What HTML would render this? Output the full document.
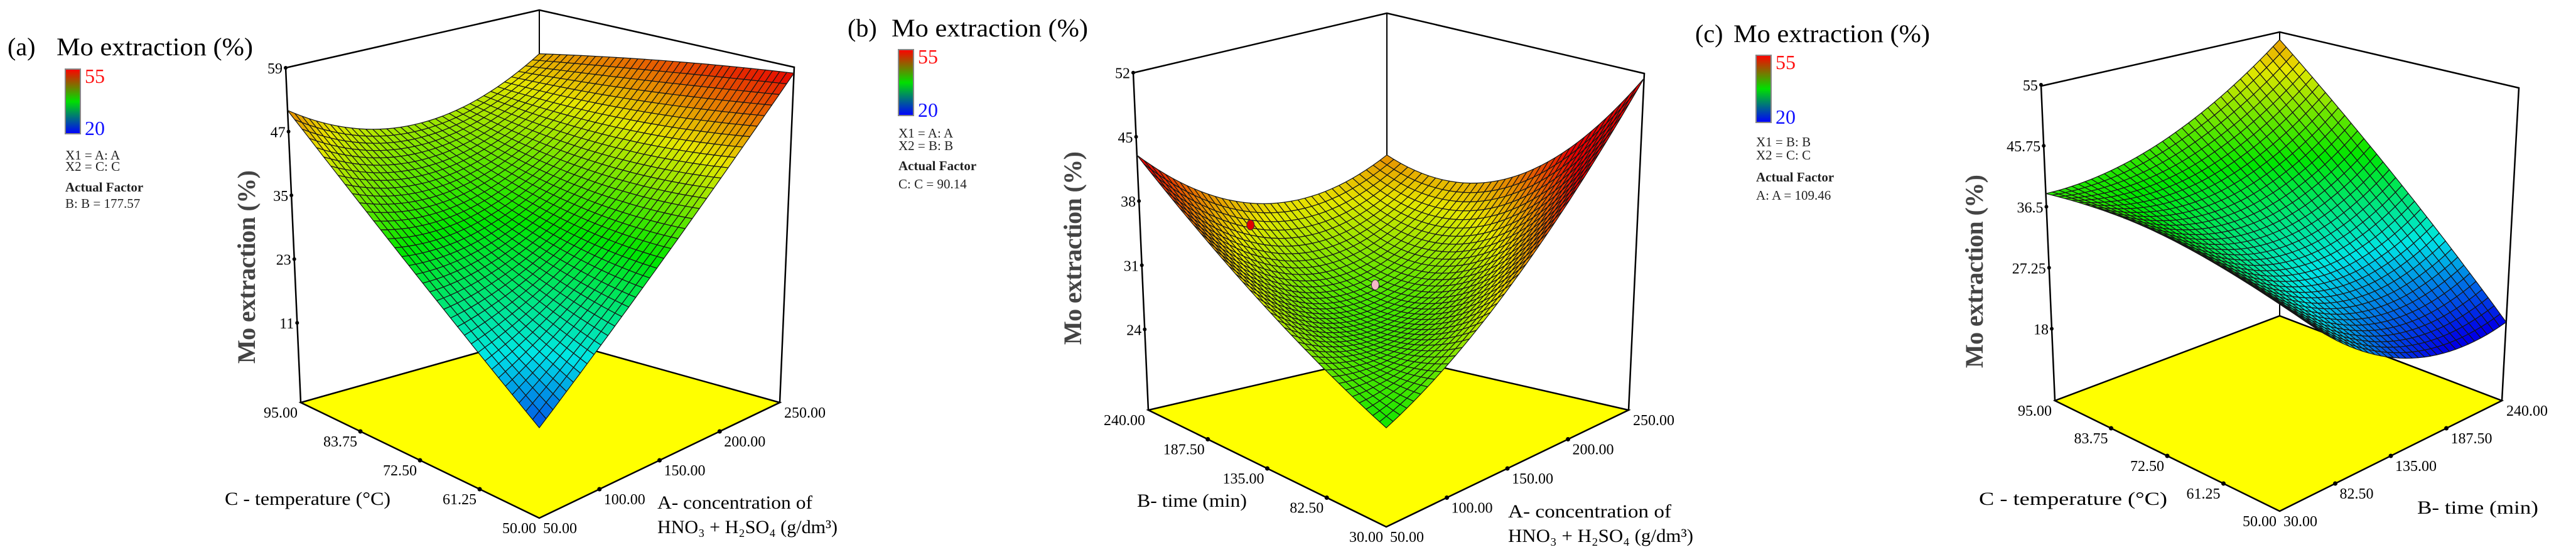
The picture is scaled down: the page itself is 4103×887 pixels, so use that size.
<!DOCTYPE html>
<html><head><meta charset="utf-8">
<style>
html,body{margin:0;padding:0;background:#fff;}
svg{display:block;font-family:"Liberation Serif",serif;}
</style></head>
<body>
<svg id="chart" width="4103" height="887" viewBox="0 0 4103 887" xmlns="http://www.w3.org/2000/svg">
<defs>
<linearGradient id="cbar" x1="0" y1="0" x2="0" y2="1">
<stop offset="0" stop-color="#ff0000"/><stop offset="0.5" stop-color="#00e000"/><stop offset="1" stop-color="#0000ff"/>
</linearGradient>
</defs>
<rect width="4103" height="887" fill="#fff"/>
</svg>
<script>
// ---- data: 3x3 response grids (rows: second factor low/mid/high, cols: first factor low/mid/high)
const gridA = [[13, 34, 58], [31, 35, 54], [51, 42, 49]];
const gridB = [[26, 35.3, 51.4], [33, 28, 37.6], [43, 34.7, 37]];
const gridC = [[39, 22, 19], [40.7, 30, 34.5], [38.5, 40, 49]];
// tick labels
const zTicksA = [11, 23, 35, 47, 59];
const zTicksB = [24, 31, 38, 45, 52];
const zTicksC = [18, 27.25, 36.5, 45.75, 55];
const zLabelsC = ["18", "27.25", "36.5", "45.75", "55"];
const uTicksA = ["50.00", "100.00", "150.00", "200.00", "250.00"];
const vTicksA = ["50.00", "61.25", "72.50", "83.75", "95.00"];
const uTicksB = ["50.00", "100.00", "150.00", "200.00", "250.00"];
const vTicksB = ["30.00", "82.50", "135.00", "187.50", "240.00"];
const uTicksC = ["30.00", "82.50", "135.00", "187.50", "240.00"];
const vTicksC = ["50.00", "61.25", "72.50", "83.75", "95.00"];
// design points in panel b: [A, B, value]
const ptsBA = [80, 140];
const ptsBB = [177, 135];
const ptsBV = [38, 31];
const ptsBColor = ["#e00000", "#f4b8c8"];

const NS = "http://www.w3.org/2000/svg";
const svg = document.getElementById("chart");
function mk(tag, attrs, parent) {
  const e = document.createElementNS(NS, tag);
  for (const k in attrs) e.setAttribute(k, attrs[k]);
  (parent || svg).appendChild(e);
  return e;
}
function txt(s, attrs, parent) { const e = mk("text", attrs, parent); e.textContent = s; return e; }

const stops = [[0,[0,0,255]],[0.25,[0,255,255]],[0.5,[0,255,0]],[0.75,[255,255,0]],[1,[255,0,0]]];
function cmap(t) {
  t = Math.max(0, Math.min(1, t));
  for (let i = 1; i < stops.length; i++) {
    if (t <= stops[i][0]) {
      const a = stops[i-1], b = stops[i], f = (t - a[0]) / (b[0] - a[0]);
      const c = a[1].map((x, j) => Math.round((x + (b[1][j] - x) * f) * 0.9));
      return "rgb(" + c.join(",") + ")";
    }
  }
  return "rgb(230,0,0)";
}
function lag(t) { return [2*(t-0.5)*(t-1), -4*t*(t-1), 2*t*(t-0.5)]; }
function evalGrid(g, u, v) {
  const lu = lag(u), lv = lag(v); let s = 0;
  for (let i = 0; i < 3; i++) for (let j = 0; j < 3; j++) s += lv[i] * lu[j] * g[i][j];
  return s;
}

function panel(cfg) {
  const G = mk("g", {}, svg);
  
  
  const F = cfg.F, L = cfg.L, R = cfg.R, B = cfg.B;
  const slL = (cfg.Ltop[0] - L[0]) / (L[1] - cfg.Ltop[1]);
  const slR = (cfg.Rtop[0] - R[0]) / (R[1] - cfg.Rtop[1]);
  function floorPt(u, v) {
    const wF = (1-u)*(1-v), wR = u*(1-v), wL = (1-u)*v, wB = u*v;
    return [F[0]*wF + R[0]*wR + L[0]*wL + B[0]*wB, F[1]*wF + R[1]*wR + L[1]*wL + B[1]*wB, wL*slL + wR*slR];
  }
  function P(u, v, z) {
    const f = floorPt(u, v); const h = (z - cfg.zFloor) * cfg.ppu;
    return [f[0] + f[2]*h, f[1] - h];
  }
  const fl = mk("polygon", {points: [F,R,B,L].map(p => p.join(",")).join(" "), fill: "#ffff00", stroke: "#000", "stroke-width": 2.5}, G);
  
  
  const frame = mk("polyline", {points: [L, cfg.Ltop, cfg.Top, cfg.Rtop, R].map(p => p.join(",")).join(" "), fill: "none", stroke: "#000", "stroke-width": 2.5}, G);
  
  
  const bv = mk("line", {x1: B[0], y1: B[1], x2: cfg.Top[0], y2: cfg.Top[1], stroke: "#000", "stroke-width": 2}, G);
  
  
  const N = 36, quads = [];
  for (let i = 0; i < N; i++) for (let j = 0; j < N; j++) {
    const u0 = j/N, u1 = (j+1)/N, v0 = i/N, v1 = (i+1)/N;
    const zc = evalGrid(cfg.grid, (u0+u1)/2, (v0+v1)/2);
    const pts = [[u0,v0],[u1,v0],[u1,v1],[u0,v1]].map(q => P(q[0], q[1], evalGrid(cfg.grid, q[0], q[1])));
    quads.push({d: (u0+u1) + (v0+v1), pts, zc});
  }
  quads.sort((a, b) => b.d - a.d);
  const sg = mk("g", {stroke: "#151515", "stroke-width": 1.2, "stroke-linejoin": "round"}, G);
  
  
  for (const q of quads) {
    const t = (q.zc - cfg.cmin) / (cfg.cmax - cfg.cmin);
    const p = mk("polygon", {points: q.pts.map(p => p[0].toFixed(1) + "," + p[1].toFixed(1)).join(" "), fill: cmap(t)}, sg);
    
    
  }
  cfg.zTicks.forEach((zv, k) => {
    const p = P(0, 1, zv);
    const d = mk("circle", {cx: p[0], cy: p[1], r: 3, fill: "#000"}, G);
    
    
    const t = txt(cfg.zLabels ? cfg.zLabels[k] : String(zv), {x: p[0] - 5, y: p[1] + 9, "text-anchor": "end", "font-size": 24}, G);
    
    
  });
  cfg.uTicks.forEach((s, k) => {
    const p = floorPt(k / 4, 0);
    if (k > 0 && k < 4) {
      const d = mk("circle", {cx: p[0], cy: p[1], r: 3.5, fill: "#000"}, G);
      
      
    }
    const t = txt(s, {x: p[0] + (k === 0 ? 6 : 7), y: p[1] + 24, "text-anchor": "start", "font-size": 24}, G);
    
    
  });
  cfg.vTicks.forEach((s, k) => {
    const p = floorPt(0, k / 4);
    if (k > 0 && k < 4) {
      const d = mk("circle", {cx: p[0], cy: p[1], r: 3.5, fill: "#000"}, G);
      
      
    }
    const t = txt(s, {x: p[0] - 5, y: p[1] + 24, "text-anchor": "end", "font-size": 24}, G);
    
    
  });
  const zt = txt("Mo extraction (%)", {x: 0, y: 0, transform: "translate(" + cfg.zTitle[0] + "," + cfg.zTitle[1] + ") rotate(-90)", "text-anchor": "middle", "font-size": 40, "font-weight": "bold", fill: "#444", textLength: 308, lengthAdjust: "spacing"}, G);
  
  
  cfg.axTitles.forEach(a => {
    const t = txt(a[0], {x: a[1], y: a[2], "font-size": 30, textLength: a[3], lengthAdjust: "spacingAndGlyphs"}, G);
    
    
  });
  const lg = cfg.leg;
  const pl = txt(cfg.letter, {x: lg.px, y: lg.ty, "font-size": 40}, G);
  
  
  const tt = txt("Mo extraction (%)", {x: lg.tx, y: lg.ty, "font-size": 40, textLength: 313, lengthAdjust: "spacingAndGlyphs"}, G);
  
  
  const cb = mk("rect", {x: lg.cx, y: lg.cy, width: 24, height: lg.ch, fill: "url(#cbar)", stroke: "#888", "stroke-width": 2}, G);
  
  
  const c1 = txt("55", {x: lg.cx + 31, y: lg.cy + 22, "font-size": 32, fill: "#ff1010"}, G);
  
  
  const c2 = txt("20", {x: lg.cx + 31, y: lg.cy + lg.ch + 2, "font-size": 32, fill: "#1010ff"}, G);
  
  
  lg.lines.forEach((l, k) => {
    const t = txt(l, {x: lg.cx, y: lg.ly[k], "font-size": 21, "font-weight": k === 2 ? "bold" : "normal", fill: "#222"}, G);
    
    
  });
  return {P, G};
}

panel({name: "panel-a", letter: "(a)", F: [859, 825], L: [479, 641], R: [1242, 641], B: [859, 534],
  Ltop: [455, 108], Rtop: [1265, 107], Top: [859, 16], zFloor: -4, ppu: 8.46,
  grid: gridA, cmin: 9, cmax: 58, zTicks: zTicksA, uTicks: uTicksA, vTicks: vTicksA,
  zTitle: [406, 425],
  axTitles: [["C - temperature (°C)", 358, 804, 264, "c-axis-title"], ["A- concentration of", 1047, 810, 247, "a-axis-title"], ["HNO₃ + H₂SO₄ (g/dm³)", 1047, 849, 287, "a-axis-title-line2"]],
  leg: {px: 12, tx: 90, ty: 88, cx: 104, cy: 110, ch: 103, lines: ["X1 = A: A", "X2 = C: C", "Actual Factor", "B: B = 177.57"], ly: [254, 272, 305, 331]}});

const pb = panel({name: "panel-b", letter: "(b)", F: [2208, 839], L: [1829, 653], R: [2594, 653], B: [2209, 565],
  Ltop: [1805, 116], Rtop: [2619, 117], Top: [2209, 21], zFloor: 15.2, ppu: 14.6,
  grid: gridB, cmin: 9, cmax: 42, zTicks: zTicksB, uTicks: uTicksB, vTicks: vTicksB,
  zTitle: [1722, 395],
  axTitles: [["B- time (min)", 1811, 807, 175, "b-axis-title"], ["A- concentration of", 2402, 824, 260, "a-axis-title"], ["HNO₃ + H₂SO₄ (g/dm³)", 2402, 863, 295, "a-axis-title-line2"]],
  leg: {px: 1350, tx: 1420, ty: 58, cx: 1431, cy: 79, ch: 105, lines: ["X1 = A: A", "X2 = B: B", "Actual Factor", "C: C = 90.14"], ly: [219, 239, 271, 300]}});
ptsBA.forEach((a, k) => {
  const p = pb.P((a - 50) / 200, (ptsBB[k] - 30) / 210, ptsBV[k]);
  const c = mk("ellipse", {cx: p[0], cy: p[1], rx: 6, ry: 8, fill: ptsBColor[k], stroke: "#333", "stroke-width": 1}, pb.G);
  
  
});

panel({name: "panel-c", letter: "(c)", F: [3631, 814], L: [3273, 638], R: [3985, 638], B: [3631, 503],
  Ltop: [3251, 137], Rtop: [4012, 140], Top: [3631, 51], zFloor: 7.1, ppu: 10.5,
  grid: gridC, cmin: 19, cmax: 55, zTicks: zTicksC, zLabels: zLabelsC, uTicks: uTicksC, vTicks: vTicksC,
  zTitle: [3158, 432],
  axTitles: [["C - temperature (°C)", 3152, 804, 300, "c-axis-title"], ["B- time (min)", 3850, 818, 193, "b-axis-title"]],
  leg: {px: 2700, tx: 2761, ty: 67, cx: 2797, cy: 88, ch: 107, lines: ["X1 = B: B", "X2 = C: C", "Actual Factor", "A: A = 109.46"], ly: [233, 254, 289, 318]}});
</script>
</body></html>
